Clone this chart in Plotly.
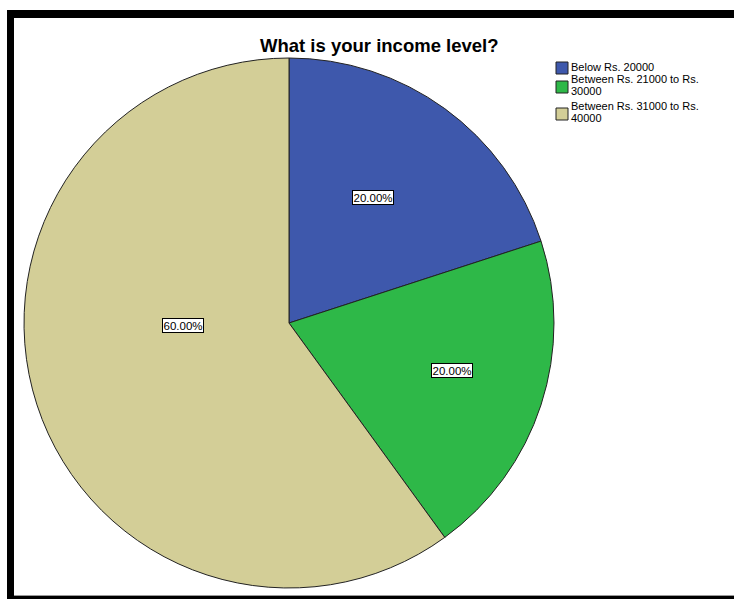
import math
import plotly.graph_objects as go

# Survey answers: share of respondents in each income band (percent)
categories = [
    "Below Rs. 20000",
    "Between Rs. 21000 to Rs. 30000",
    "Between Rs. 31000 to Rs. 40000",
]
legend_lines = [
    ["Below Rs. 20000"],
    ["Between Rs. 21000 to Rs.", "30000"],
    ["Between Rs. 31000 to Rs.", "40000"],
]
shares = [20.0, 20.0, 60.0]
colors = ["#3E58AC", "#2EB848", "#D3CE97"]

W, H = 734, 599
CX, CY, R = 289, 323, 265  # pie centre and radius in pixels


def px(x):
    return x / W


def py(y):
    return 1 - y / H


fig = go.Figure(
    go.Pie(
        labels=categories,
        values=shares,
        sort=False,
        direction="clockwise",
        rotation=0,
        marker=dict(colors=colors, line=dict(color="#222222", width=1)),
        textinfo="none",
        hoverinfo="label+percent",
        showlegend=False,
        domain=dict(x=[px(CX - R), px(CX + R)], y=[py(CY + R), py(CY - R)]),
    )
)

# Boxed percentage labels placed along each slice's mid angle
label_radius = [0.571, 0.64, 0.40]
label_turn = [-2.3, -1.9, 16.4]
total = sum(shares)
start = 0.0
annotations = []
for v, rf, turn in zip(shares, label_radius, label_turn):
    mid = (start + v / 2) / total * 360 + turn
    start += v
    a = math.radians(mid)
    x = CX + rf * R * math.sin(a)
    y = CY - rf * R * math.cos(a)
    annotations.append(dict(
        x=px(x), y=py(y), xref="paper", yref="paper",
        xanchor="center", yanchor="middle",
        text=f"{v / total * 100:.2f}%", showarrow=False,
        font=dict(family="Liberation Sans, Arial", size=11.5, color="black"),
        bgcolor="white", bordercolor="black", borderwidth=1, borderpad=0.5,
    ))

# Title
annotations.append(dict(
    x=px(379), y=py(45), xref="paper", yref="paper",
    xanchor="center", yanchor="middle",
    text="<b>What is your income level?</b>", showarrow=False,
    font=dict(family="Liberation Sans, Arial", size=18.5, color="black"),
))

# Legend built from the category list
shapes = []
legend_top = [67, 79, 106]
for lines, col, ty in zip(legend_lines, colors, legend_top):
    for i, line in enumerate(lines):
        annotations.append(dict(
            x=px(569), y=py(ty + i * 12), xref="paper", yref="paper",
            text=line, showarrow=False, xanchor="left", yanchor="middle",
            font=dict(family="Liberation Sans, Arial", size=11, color="black"),
        ))
    sq_mid = ty + (len(lines) - 1) * 12 / 2 + (1 if len(lines) == 1 else 2)
    shapes.append(dict(
        type="rect", xref="paper", yref="paper",
        x0=px(556), x1=px(568), y0=py(sq_mid - 6), y1=py(sq_mid + 6),
        fillcolor=col, line=dict(color="#222222", width=1),
    ))

# Black frame on the left, top and bottom edges
frame = [(7, 10, 14, 599), (7, 10, 734, 18), (7, 596, 734, 599)]
for x0, y0, x1, y1 in frame:
    shapes.append(dict(
        type="rect", xref="paper", yref="paper",
        x0=px(x0), x1=px(x1), y0=py(y1), y1=py(y0),
        fillcolor="black", line=dict(width=0), layer="above",
    ))
shapes.append(dict(
    type="line", xref="paper", yref="paper",
    x0=px(14), x1=px(734), y0=py(595.5), y1=py(595.5),
    line=dict(color="#9a9a9a", width=1),
))

fig.update_layout(
    width=W, height=H,
    margin=dict(l=0, r=0, t=0, b=0),
    paper_bgcolor="white", plot_bgcolor="white",
    annotations=annotations, shapes=shapes,
)

fig.write_html("out.html")
